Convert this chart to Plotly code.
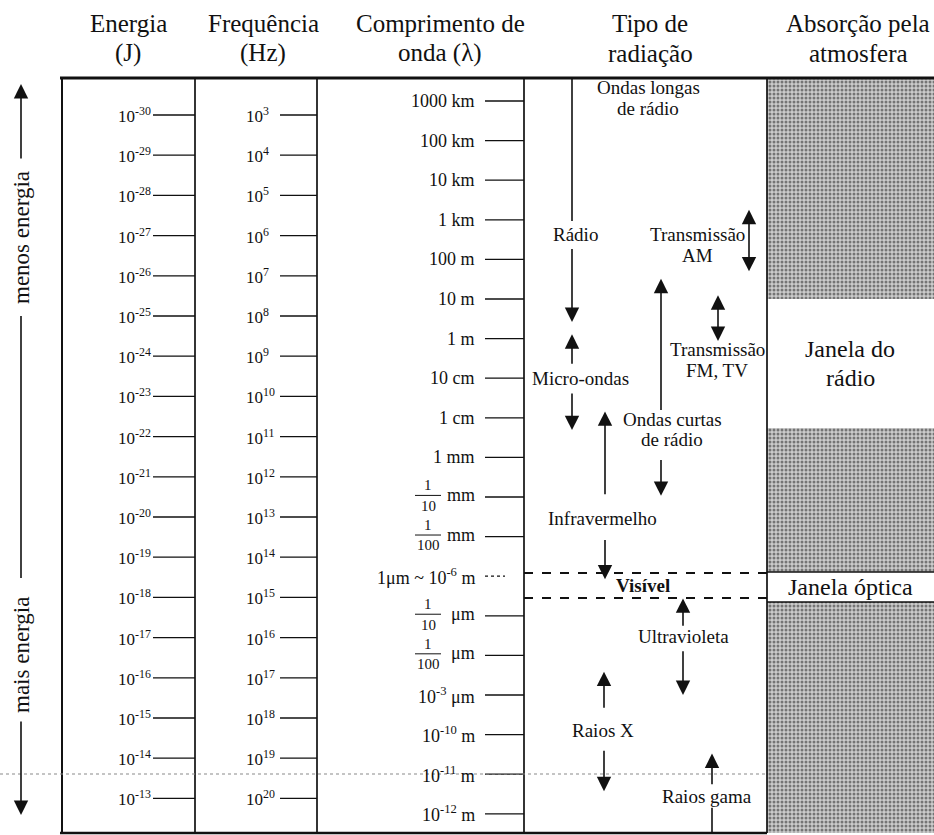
import plotly.graph_objects as go

# ---------------- data ----------------
energy_exp = [-30, -29, -28, -27, -26, -25, -24, -23, -22, -21, -20, -19, -18, -17, -16, -15, -14, -13]
freq_exp = [3, 4, 5, 6, 7, 8, 9, 10, 11, 12, 13, 14, 15, 16, 17, 18, 19, 20]

# wavelength ticks: log10 of metres and label
wave_exp = [6, 5, 4, 3, 2, 1, 0, -1, -2, -3, -4, -5, -6, -7, -8, -9, -10, -11, -12]
wave_labels = ["1000 km", "100 km", "10 km", "1 km", "100 m", "10 m", "1 m", "10 cm", "1 cm", "1 mm",
               "1/10|mm", "1/100|mm", "1μm ~ 10<sup>-6</sup> m", "1/10|μm", "1/100|μm",
               "10<sup>-3</sup> μm", "10<sup>-10</sup> m", "10<sup>-11</sup> m", "10<sup>-12</sup> m"]

headers = [("Energia", "(J)"), ("Frequência", "(Hz)"), ("Comprimento de", "onda (λ)"),
           ("Tipo de", "radiação"), ("Absorção pela", "atmosfera")]

# atmosphere absorption (log10 wavelength in m): opaque bands and windows
opaque_bands = [(6.58, 1.0), (-2.25, -5.89), (-6.65, -12.48)]
radio_window = (1.0, -2.25)
optical_window = (-5.89, -6.65)
visible_band = (-5.92, -6.55)

# radiation types: label lines, label centre (log10 lambda)
rad_labels = {
    "longas": (["Ondas longas", "de rádio"], 6.08),
    "radio": (["Rádio"], 2.62),
    "micro": (["Micro-ondas"], -1.0),
    "curtas": (["Ondas curtas", "de rádio"], -2.3),
    "infra": (["Infravermelho"], -4.54),
    "uv": (["Ultravioleta"], -7.52),
    "x": (["Raios X"], -9.89),
    "gama": (["Raios gama"], -11.57),
    "am": (["Transmissão", "AM"], 2.37),
    "fm": (["Transmissão", "FM, TV"], -0.54),
}
# arrows: (key, tail, tip) in log10 lambda
rad_arrows = [
    ("radio", 2.30, 0.42), ("micro", -0.67, 0.11), ("micro", -1.35, -2.31),
    ("curtas", -1.84, 1.51), ("curtas", -3.03, -3.97), ("infra", -3.97, -1.84),
    ("infra", -5.05, -6.08), ("uv", -7.29, -6.56), ("uv", -7.86, -9.0),
    ("x", -9.36, -8.41), ("x", -10.37, -11.43), ("gama", -11.29, -10.48),
]
double_arrows = [("am", 3.29, 1.70), ("fm", 1.13, -0.06)]
plain_lines = [("radio", 6.58, 2.97), ("gama", -11.85, -12.48)]

# ---------------- layout constants (pixels) ----------------
W, H = 934, 835
TOP_PX, DEC_PX = 101.0, 39.6  # 1000 km tick pixel and pixels per decade


def Y(px):
    return 6 - (px - TOP_PX) / DEC_PX


SERIF = "Liberation Serif"
INK = "#111111"
fig = go.Figure()

shapes = []
annos = []


def line(x0, y0, x1, y1, w=1.5, dash="solid", color=INK):
    shapes.append(dict(type="line", x0=x0, x1=x1, y0=y0, y1=y1, xref="x", yref="y",
                       line=dict(color=color, width=w, dash=dash), layer="above"))


def text(x, y, t, size=18, anchor="center", color=INK, angle=0):
    annos.append(dict(x=x, y=y, xref="x", yref="y", text=t, showarrow=False,
                      xanchor=anchor, yanchor="middle", textangle=angle,
                      font=dict(family=SERIF, size=size, color=color)))


def arrow(x, tail, tip, both=False):
    d = dict(x=x, y=tip, ax=x, ay=tail, xref="x", yref="y", axref="x", ayref="y",
             text="", showarrow=True, arrowhead=2, arrowsize=1.8, arrowwidth=1.6,
             arrowcolor=INK, standoff=0)
    if both:
        d.update(arrowside="end+start", startarrowhead=2, startarrowsize=1.8)
    annos.append(d)


# absorption column (stippled)
col_x0, col_x1 = 767, 934
for top, bot in opaque_bands:
    fig.add_trace(go.Bar(x=[(col_x0 + col_x1) / 2], y=[top - bot], base=[bot], width=[col_x1 - col_x0],
                         marker=dict(color="#b5b5b5", line=dict(width=0),
                                     pattern=dict(shape=".", fgcolor="#1e1e1e", bgcolor="#cbcbcb",
                                                  size=4, solidity=0.45)),
                         hoverinfo="skip", showlegend=False))

# headers
hx = [128, 263, 440, 650, 858]
for (l1, l2), x in zip(headers, hx):
    text(x, Y(23), l1, size=25)
    text(x, Y(53), l2, size=25)

# frame
box_top, box_bot = Y(78), Y(833)
line(60, box_top, W, box_top, w=3)
line(62, box_top, 62, box_bot, w=2)
line(60, box_bot, 767, box_bot, w=2.5)
for xd in [195, 317, 524, 767]:
    line(xd, box_top, xd, box_bot, w=1.7)
line(767, Y(572), W, Y(572), w=1.5)
line(767, Y(602), W, Y(602), w=1.5)

# energy and frequency ticks
for i, (e, f) in enumerate(zip(energy_exp, freq_exp)):
    y = Y(115 + i * 40.2)
    text(116, y, "10<sup>%d</sup>" % e, size=17, anchor="left")
    line(153, y, 195, y, w=1.3)
    text(244, y, "10<sup>%d</sup>" % f, size=17, anchor="left")
    line(280, y, 317, y, w=1.3)

# wavelength ticks
for e, lab in zip(wave_exp, wave_labels):
    if "|" in lab:
        frac, unit = lab.split("|")
        num, den = frac.split("/")
        fx = 428
        text(fx, e + 0.3, num, size=15)
        text(fx, e - 0.22, den, size=15)
        line(fx - 13, e + 0.04, fx + 13, e + 0.04, w=1)
        text(477, e + 0.05, unit, size=18, anchor="right")
        line(485, e, 524, e, w=1.3)
    elif "μm ~" in lab:
        text(477, e, lab, size=18, anchor="right")
        line(485, e, 505, e, w=1.3, dash="dot")
    else:
        text(477, e, lab, size=18, anchor="right")
        line(485, e, 524, e, w=1.3)

# visible band dashed lines
for yb in visible_band:
    line(524, yb, 767, yb, w=2, dash="dash")
text(643, sum(visible_band) / 2, "<b>Visível</b>", size=19)

# dotted line across
line(0, Y(774), 767, Y(774), w=1.2, dash="dot", color="#8a8a8a")

# radiation type labels
lab_x = {"longas": 648, "radio": 575, "micro": 580, "curtas": 672, "infra": 602, "uv": 683,
         "x": 603, "gama": 707, "am": 697, "fm": 717}
arrow_x = {"radio": 572, "micro": 572, "curtas": 661, "infra": 605, "uv": 683, "x": 604,
           "gama": 712, "am": 749, "fm": 718}
for k, (lines_, yc) in rad_labels.items():
    n = len(lines_)
    for j, t in enumerate(lines_):
        text(lab_x[k], yc + (n - 1) * 0.26 - j * 0.52, t, size=19)

for k, tail, tip in rad_arrows:
    arrow(arrow_x[k], tail, tip)
for k, a, b in double_arrows:
    arrow(arrow_x[k], a, b, both=True)
for k, a, b in plain_lines:
    line(arrow_x[k], a, arrow_x[k], b, w=1.6)

# absorption window labels
text(850, sum(radio_window) / 2 + 0.37, "Janela do", size=24)
text(850, sum(radio_window) / 2 - 0.37, "rádio", size=24)
text(850, sum(optical_window) / 2, "Janela óptica", size=24)

# energy direction arrow on the left
arrow(21, Y(160), Y(84))
line(21, Y(316), 21, Y(578), w=1.6)
arrow(21, Y(720), Y(815))
text(21, Y(238), "menos energia", size=23, angle=-90)
text(21, Y(655), "mais energia", size=23, angle=-90)

fig.update_layout(
    width=W, height=H, margin=dict(l=0, r=0, t=0, b=0),
    paper_bgcolor="white", plot_bgcolor="white",
    xaxis=dict(range=[0, W], visible=False, fixedrange=True),
    yaxis=dict(range=[Y(H), Y(0)], visible=False, fixedrange=True),
    shapes=shapes, annotations=annos, bargap=0, showlegend=False,
)
fig.write_html("out.html", config={"displayModeBar": False},
               post_script="document.body.style.margin='0px';document.body.style.overflow='hidden';")
